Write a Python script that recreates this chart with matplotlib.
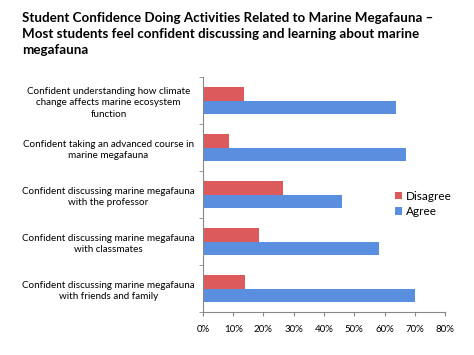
import numpy as np
import matplotlib
matplotlib.use('Agg')
import matplotlib.pyplot as plt
from matplotlib.ticker import PercentFormatter

plt.rcParams['font.family'] = ['Lato', 'DejaVu Sans']

# categories listed bottom to top
categories = ['Confident discussing marine megafauna\nwith friends and family',
              'Confident discussing marine megafauna\nwith classmates',
              'Confident discussing marine megafauna\nwith the professor',
              'Confident taking an advanced course in\nmarine megafauna',
              'Confident understanding how climate\nchange affects marine ecosystem\nfunction']
disagree = [14.0, 18.4, 26.6, 8.6, 13.5]
agree    = [70.0, 58.2, 46.0, 67.0, 63.7]
x_ticks  = [0, 10, 20, 30, 40, 50, 60, 70, 80]

RED  = '#dd5a5c'
BLUE = '#5a8fdf'

fig = plt.figure(figsize=(4.74, 3.55), dpi=100)
ax = fig.add_axes([0.428, 0.121, 0.511, 0.662])

y = np.arange(len(categories))
h = 0.28
ax.barh(y + h/2, disagree, height=h, color=RED, label='Disagree')
ax.barh(y - h/2, agree, height=h, color=BLUE, label='Agree')

ax.set_xlim(0, 80)
ax.set_ylim(-0.5, len(categories) - 0.5)
ax.set_xticks(x_ticks)
ax.xaxis.set_major_formatter(PercentFormatter(decimals=0))
ax.set_yticks(y)
ax.set_yticklabels(categories, ha='center', fontsize=7.1, linespacing=1.4)
ax.tick_params(axis='y', length=0, pad=68)
ax.set_yticks(np.arange(-0.5, len(categories)), minor=True)
ax.tick_params(axis='y', which='minor', length=3, color='#888888', direction='out')
ax.tick_params(axis='x', labelsize=7, length=3, color='#888888', pad=6)
for s in ['top', 'right']:
    ax.spines[s].set_visible(False)
for s in ['left', 'bottom']:
    ax.spines[s].set_color('#888888')
    ax.spines[s].set_linewidth(0.8)

ax.legend(loc='center left', bbox_to_anchor=(0.75, 0.46), frameon=False,
          fontsize=8.5, handlelength=0.6, handleheight=0.6, handletextpad=0.3,
          labelspacing=0.4)

fig.text(0.046, 0.965, 'Student Confidence Doing Activities Related to Marine Megafauna \u2013\n'
         'Most students feel confident discussing and learning about marine\n'
         'megafauna', ha='left', va='top', fontsize=9.6, fontweight='bold',
         linespacing=1.4)

fig.savefig('out.png', dpi=100)
